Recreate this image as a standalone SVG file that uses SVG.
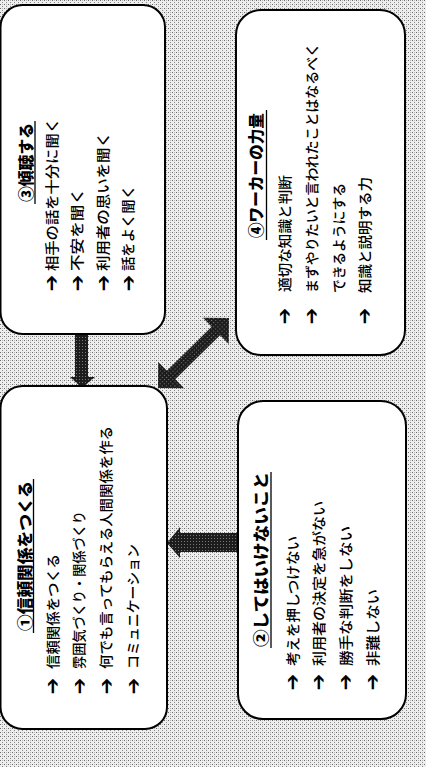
<svg xmlns="http://www.w3.org/2000/svg" width="426" height="767" viewBox="0 0 426 767">
<defs>
<pattern id="dither" width="4" height="4" patternUnits="userSpaceOnUse">
<rect width="4" height="4" fill="#eeeeee"/>
<rect x="0" y="0" width="1" height="1" fill="#6a6a6a"/>
<rect x="2" y="2" width="1" height="1" fill="#8a8a8a"/>
<rect x="2" y="0" width="1" height="1" fill="#b8b8b8"/>
</pattern>
<pattern id="dark" width="3" height="3" patternUnits="userSpaceOnUse">
<rect width="3" height="3" fill="#1c1c1c"/>
<rect x="1" y="1" width="1" height="1" fill="#777"/>
</pattern>
<style>
.box{fill:#fff;stroke:#000;stroke-width:2}
.t{font-family:"Noto Sans CJK JP","Noto Sans",sans-serif;font-size:15.5px;font-weight:900;fill:#000}
.it{font-family:"Noto Sans CJK JP","Noto Sans",sans-serif;font-size:14px;font-weight:500;fill:#000}
.b{font-family:"DejaVu Sans",sans-serif;font-size:20px;font-weight:bold;fill:#000}
.ul{stroke:#000;stroke-width:1.3}
.arr{fill:url(#dark)}
</style>
</defs>
<rect width="426" height="767" fill="url(#dither)"/>

<g id="connectors">
<path class="arr" d="M75,334 H88 V377 H95 L82,388 L70,377 H75 Z"/>
<path class="arr" d="M238,533 V552 H180 V558 L167,543 L180,527 V533 Z"/>
<polygon class="arr" transform="translate(158,388) rotate(-44.6)" points="0,0 18.4,-18.4 18.4,-6 81.3,-6 81.3,-18.4 99.7,0 81.3,18.4 81.3,6 18.4,6 18.4,18.4"/>
</g>

<g id="node3">
<rect class="box" x="0.5" y="5" width="164.5" height="329" rx="22"/>
<text class="t" transform="translate(32,202) rotate(-90)" textLength="79" lengthAdjust="spacingAndGlyphs">③傾聴する</text>
<line class="ul" x1="35" y1="204" x2="35" y2="121"/>
<text class="b" transform="translate(51,283) rotate(-90)" text-anchor="middle" dominant-baseline="central">➔</text>
<text class="b" transform="translate(77,283) rotate(-90)" text-anchor="middle" dominant-baseline="central">➔</text>
<text class="b" transform="translate(103,283) rotate(-90)" text-anchor="middle" dominant-baseline="central">➔</text>
<text class="b" transform="translate(128,283) rotate(-90)" text-anchor="middle" dominant-baseline="central">➔</text>
<text class="it" transform="translate(57,271) rotate(-90)" textLength="153" lengthAdjust="spacingAndGlyphs">相手の話を十分に聞く</text>
<text class="it" transform="translate(82,271) rotate(-90)" textLength="83" lengthAdjust="spacingAndGlyphs">不安を聞く</text>
<text class="it" transform="translate(108,271) rotate(-90)" textLength="139" lengthAdjust="spacingAndGlyphs">利用者の思いを聞く</text>
<text class="it" transform="translate(133,271) rotate(-90)" textLength="86" lengthAdjust="spacingAndGlyphs">話をよく聞く</text>
</g>

<g id="node4">
<rect class="box" x="236" y="10" width="169" height="345" rx="25"/>
<text class="t" transform="translate(262,238) rotate(-90)" textLength="125" lengthAdjust="spacingAndGlyphs">④ワーカーの力量</text>
<line class="ul" x1="266.5" y1="240" x2="266.5" y2="110"/>
<text class="b" transform="translate(284,316) rotate(-90)" text-anchor="middle" dominant-baseline="central">➔</text>
<text class="b" transform="translate(311,316) rotate(-90)" text-anchor="middle" dominant-baseline="central">➔</text>
<text class="b" transform="translate(364,316) rotate(-90)" text-anchor="middle" dominant-baseline="central">➔</text>
<text class="it" transform="translate(290,292) rotate(-90)" textLength="117" lengthAdjust="spacingAndGlyphs">適切な知識と判断</text>
<text class="it" transform="translate(317,293) rotate(-90)" textLength="250" lengthAdjust="spacingAndGlyphs">まずやりたいと言われたことはなるべく</text>
<text class="it" transform="translate(344,293) rotate(-90)" textLength="110" lengthAdjust="spacingAndGlyphs">できるようにする</text>
<text class="it" transform="translate(370,293) rotate(-90)" textLength="116" lengthAdjust="spacingAndGlyphs">知識と説明する力</text>
</g>

<g id="node1">
<rect class="box" x="0.5" y="386" width="166.5" height="343" rx="22"/>
<text class="t" transform="translate(31,631) rotate(-90)" textLength="150" lengthAdjust="spacingAndGlyphs">①信頼関係をつくる</text>
<line class="ul" x1="33.5" y1="633" x2="33.5" y2="479"/>
<text class="b" transform="translate(52,686) rotate(-90)" text-anchor="middle" dominant-baseline="central">➔</text>
<text class="b" transform="translate(79,686) rotate(-90)" text-anchor="middle" dominant-baseline="central">➔</text>
<text class="b" transform="translate(106,686) rotate(-90)" text-anchor="middle" dominant-baseline="central">➔</text>
<text class="b" transform="translate(133,686) rotate(-90)" text-anchor="middle" dominant-baseline="central">➔</text>
<text class="it" transform="translate(58,669) rotate(-90)" textLength="115" lengthAdjust="spacingAndGlyphs">信頼関係をつくる</text>
<text class="it" transform="translate(84,669) rotate(-90)" textLength="158" lengthAdjust="spacingAndGlyphs">雰囲気づくり・関係づくり</text>
<text class="it" transform="translate(111,669) rotate(-90)" textLength="243" lengthAdjust="spacingAndGlyphs">何でも言ってもらえる人間関係を作る</text>
<text class="it" transform="translate(138,669) rotate(-90)" textLength="125" lengthAdjust="spacingAndGlyphs">コミュニケーション</text>
</g>

<g id="node2">
<rect class="box" x="238" y="401" width="168" height="318" rx="25"/>
<text class="t" transform="translate(267,647) rotate(-90)" textLength="175" lengthAdjust="spacingAndGlyphs">②してはいけないこと</text>
<line class="ul" x1="271" y1="648" x2="271" y2="472"/>
<text class="b" transform="translate(292,682) rotate(-90)" text-anchor="middle" dominant-baseline="central">➔</text>
<text class="b" transform="translate(318,682) rotate(-90)" text-anchor="middle" dominant-baseline="central">➔</text>
<text class="b" transform="translate(345,682) rotate(-90)" text-anchor="middle" dominant-baseline="central">➔</text>
<text class="b" transform="translate(372,682) rotate(-90)" text-anchor="middle" dominant-baseline="central">➔</text>
<text class="it" transform="translate(298,666) rotate(-90)" textLength="130" lengthAdjust="spacingAndGlyphs">考えを押しつけない</text>
<text class="it" transform="translate(324,666) rotate(-90)" textLength="165" lengthAdjust="spacingAndGlyphs">利用者の決定を急がない</text>
<text class="it" transform="translate(351,666) rotate(-90)" textLength="140" lengthAdjust="spacingAndGlyphs">勝手な判断をしない</text>
<text class="it" transform="translate(378,666) rotate(-90)" textLength="77" lengthAdjust="spacingAndGlyphs">非難しない</text>
</g>
</svg>
